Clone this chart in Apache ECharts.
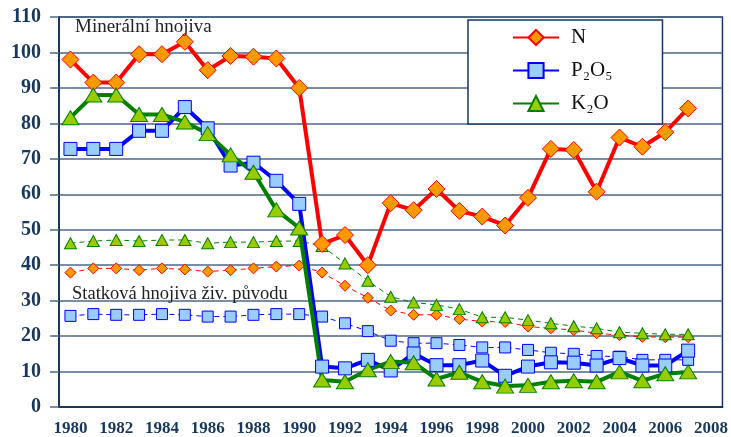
<!DOCTYPE html>
<html>
<head>
<meta charset="utf-8">
<script src="https://cdn.jsdelivr.net/npm/echarts@6/dist/echarts.min.js"></script>
<style>
  html, body { margin: 0; padding: 0; background: #fff; }
  #chart { width: 731px; height: 437px; }
</style>
</head>
<body>
<div id="chart"></div>
<script>
// roky (2008 je jen popisek osy, bez dat)
const years = ['1980','1981','1982','1983','1984','1985','1986','1987','1988','1989',
  '1990','1991','1992','1993','1994','1995','1996','1997','1998','1999',
  '2000','2001','2002','2003','2004','2005','2006','2007','2008']

// minerální hnojiva (kg/ha)
const nMineral = [98, 91.5, 91.5, 99.5, 99.5, 103, 95, 99, 98.8, 98.3,
  90, 46, 48.5, 40, 57.5, 55.5, 61.5, 55.3, 53.7, 51.2,
  59, 72.8, 72.5, 60.7, 76, 73.4, 77.5, 84.2]
const pMineral = [72.8, 72.8, 72.8, 77.9, 77.9, 84.6, 78.6, 68.1, 68.9, 63.8,
  57.3, 11.4, 10.9, 13.3, 10.3, 15.1, 11.8, 11.8, 13.1, 8.8,
  11.4, 12.6, 12.5, 11.7, 13.8, 11.7, 11.7, 15.9]
const kMineral = [81.6, 88, 88, 82.5, 82.5, 80.4, 77.1, 71.1, 66.2, 55.6,
  50.5, 7.6, 7.1, 10.5, 12.8, 12.5, 7.9, 9.8, 7.1, 5.9,
  6.1, 7.1, 7.4, 7.1, 9.9, 7.4, 9.4, 9.9]

// statková hnojiva živočišného původu
const nManure = [37.9, 39.1, 39.1, 38.6, 39.1, 38.8, 38.2, 38.6, 39.1, 39.6,
  39.9, 37.9, 34.2, 30.8, 27.2, 26, 26, 24.8, 24.1, 24,
  22.7, 22.2, 21.7, 20.8, 20.3, 19.8, 19.7, 19.7]
const pManure = [25.7, 26.2, 26, 26, 26.2, 26, 25.5, 25.5, 26, 26.2,
  26.2, 25.5, 23.6, 21.4, 18.7, 18, 18, 17.5, 16.8, 16.8,
  16.1, 15.3, 15, 14.4, 14.2, 13.3, 13.3, 13.3]
const kManure = [46.2, 46.8, 47.1, 46.8, 47.1, 47.1, 46.2, 46.5, 46.5, 46.8,
  46.8, 45.4, 40.5, 35.6, 31.1, 29.5, 28.8, 27.6, 25.3, 25.3,
  24.5, 23.6, 22.8, 22.2, 21.1, 20.8, 20.5, 20.5]

const navy = '#17375e'
const gridColor = '#4d6888'
const serif = '"Liberation Serif", "DejaVu Serif", serif'

function mineral(name, data, symbol, size, line, fill) {
  return {
    name: name,
    type: 'line',
    data: data,
    symbol: symbol,
    symbolSize: size,
    showAllSymbol: true,
    z: 3,
    lineStyle: { color: line, width: 4 },
    itemStyle: { color: fill, borderColor: line, borderWidth: 1 }
  }
}

function manure(name, data, symbol, size, line, fill) {
  return {
    name: name,
    type: 'line',
    data: data,
    symbol: symbol,
    symbolSize: size,
    showAllSymbol: true,
    z: 2,
    lineStyle: { color: line, width: 1, type: [5, 4] },
    itemStyle: { color: fill, borderColor: line, borderWidth: 1 }
  }
}

const chart = echarts.init(document.getElementById('chart'))

chart.setOption({
  animation: false,
  grid: {
    left: 59, right: 8, top: 17, bottom: 30,
    show: true,
    borderColor: navy,
    borderWidth: 1.5
  },
  legend: {
    data: ['N', 'P₂O₅', 'K₂O'],
    orient: 'vertical',
    left: 468,
    top: 20,
    padding: [7, 50, 10, 44],
    itemGap: 12,
    itemWidth: 46,
    itemHeight: 19,
    borderColor: navy,
    borderWidth: 1.5,
    backgroundColor: '#fff',
    textStyle: { fontFamily: serif, fontSize: 21, color: '#111', lineHeight: 20, padding: [0, 0, 0, 7] }
  },
  xAxis: {
    type: 'category',
    data: years,
    boundaryGap: true,
    axisLine: { lineStyle: { color: navy, width: 2 } },
    axisTick: { interval: 0, length: 5, lineStyle: { color: navy, width: 1.5 } },
    axisLabel: {
      interval: 1,
      margin: 13,
      fontFamily: serif,
      fontWeight: 'bold',
      fontSize: 17,
      color: navy
    },
    splitLine: { show: false }
  },
  yAxis: {
    type: 'value',
    min: 0,
    max: 110,
    interval: 10,
    axisLine: { show: true, lineStyle: { color: navy, width: 2 } },
    axisTick: { show: true, length: 9, lineStyle: { color: gridColor, width: 1.5 } },
    axisLabel: {
      margin: 18,
      fontFamily: serif,
      fontWeight: 'bold',
      fontSize: 20,
      color: navy
    },
    splitLine: { lineStyle: { color: gridColor, width: 1.5 } }
  },
  graphic: [
    {
      type: 'text', left: 75, top: 18, z: 10,
      style: { text: 'Minerální hnojiva', font: '19px ' + serif, fill: '#222' }
    },
    {
      type: 'text', left: 72, top: 285, z: 10,
      style: { text: 'Statková hnojiva živ. původu', font: '18.5px ' + serif, fill: '#222' }
    }
  ],
  series: [
    manure('N statková', nManure, 'diamond', 11, '#ff0000', '#ff9900'),
    manure('P statková', pManure, 'rect', 11, '#0000ff', '#99ccff'),
    manure('K statková', kManure, 'triangle', [12, 11], '#008000', '#99cc00'),
    mineral('N', nMineral, 'diamond', 17, '#ff0000', '#ff9900'),
    mineral('P₂O₅', pMineral, 'rect', 13, '#0000ff', '#99ccff'),
    mineral('K₂O', kMineral, 'triangle', [17, 14], '#008000', '#99cc00')
  ]
})
</script>
</body>
</html>
